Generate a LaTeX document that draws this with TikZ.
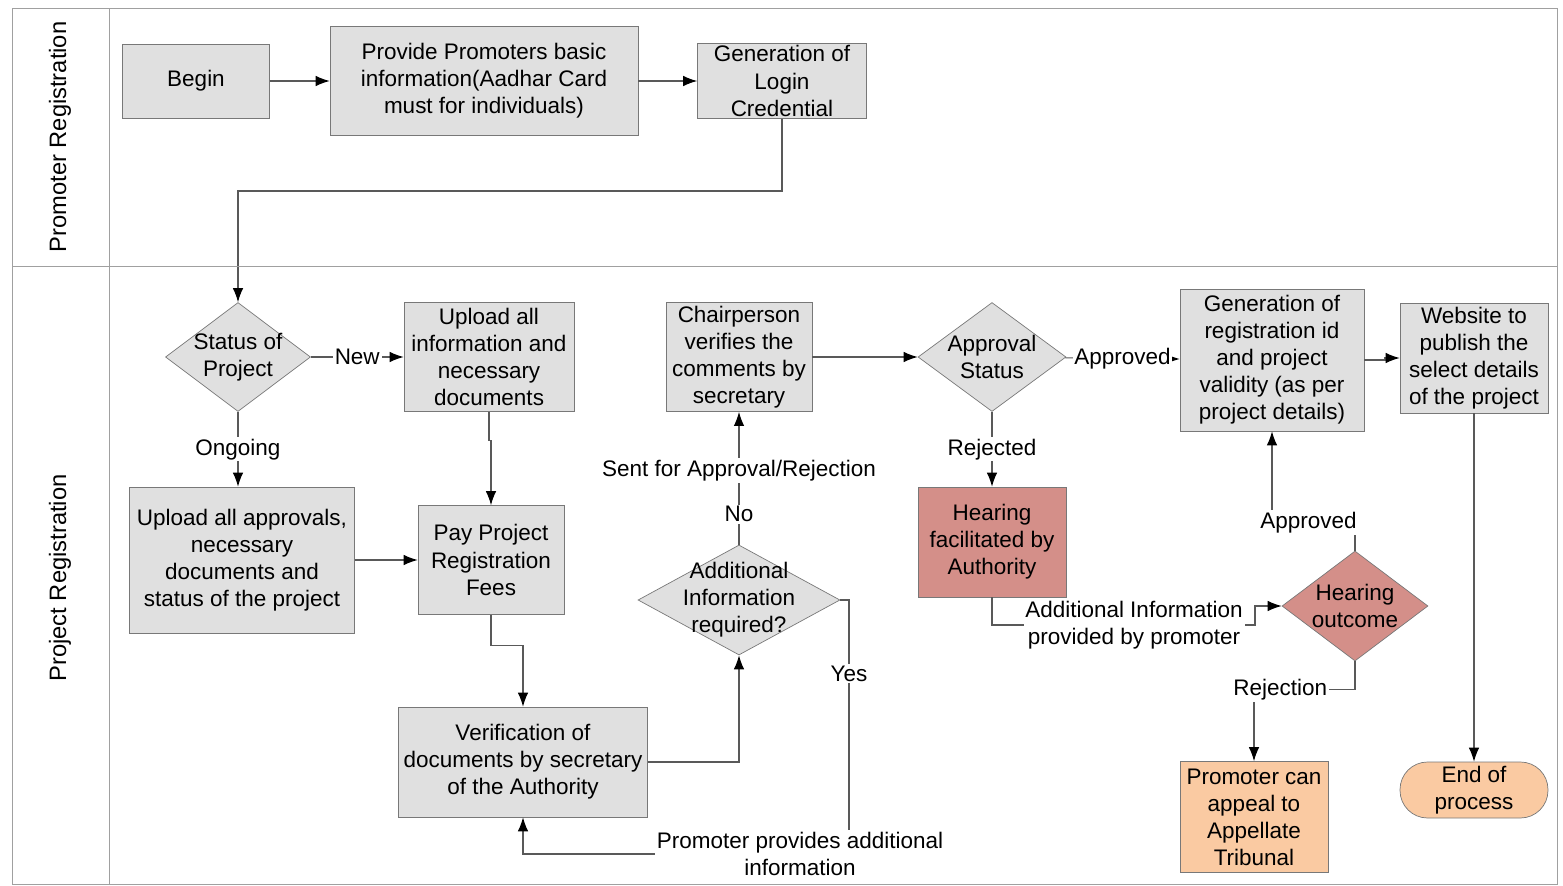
\documentclass[tikz,border=0pt]{standalone}
\usepackage{fontspec}
\setmainfont{Liberation Sans}
\usetikzlibrary{arrows.meta,positioning,shapes.geometric}

\definecolor{boxgray}{RGB}{224,224,224}
\definecolor{linegray}{RGB}{120,120,120}
\definecolor{lanegray}{RGB}{160,160,160}
\definecolor{rosy}{RGB}{212,143,137}
\definecolor{peach}{RGB}{250,202,162}

\begin{document}
\begin{tikzpicture}[x=0.02cm, y=-0.02cm, >={Latex[length=8pt,width=6pt,color=black]},
  every node/.style={font=\fontsize{12.8}{15.4}\selectfont, align=center},
  blk/.style={draw=linegray, fill=boxgray, inner sep=2pt},
  dia/.style={diamond, draw=linegray, fill=boxgray, inner sep=0pt},
  lbl/.style={fill=white, inner sep=1pt},
  flow/.style={->, draw=black!65, line width=0.6pt}]
      \useasboundingbox (0,0) rectangle (1563,886);

      % promoter lane
      \node[blk, minimum width=2.94cm, minimum height=1.48cm] (begin) at (196,81) {Begin};
      \node[blk, minimum width=6.16cm, minimum height=2.18cm] (basic) at (484,81) {Provide Promoters basic\\information(Aadhar Card\\must for individuals)};
      \node[blk, inner ysep=0pt, minimum width=3.38cm, minimum height=1.5cm] (login) at (782,81) {Generation of\\Login\\Credential};

      % project lane
      \node[dia, minimum width=2.9cm, minimum height=2.18cm, label=center:{Status of\\Project}] (status) at (238,357) {};
      \node[blk, minimum width=3.4cm, minimum height=2.18cm] (upinfo) at (489,357) {Upload all\\information and\\necessary\\documents};
      \node[blk, minimum width=4.5cm, minimum height=2.92cm] (upappr) at (242,560) {Upload all approvals,\\necessary\\documents and\\status of the project};
      \node[blk, minimum width=2.92cm, minimum height=2.18cm] (pay) at (491,560) {Pay Project\\Registration\\Fees};
      \node[blk, minimum width=4.98cm, minimum height=2.2cm] (verif) at (523,762) {Verification of\\documents by secretary\\of the Authority};
      \node[dia, minimum width=4.04cm, minimum height=2.2cm, label=center:{Additional\\Information\\required?}] (addinfo) at (739,600) {};
      \node[blk, minimum width=2.92cm, minimum height=2.18cm] (chair) at (739,357) {Chairperson\\verifies the\\comments by\\secretary};
      \node[dia, minimum width=2.96cm, minimum height=2.18cm, label=center:{Approval\\Status}] (approval) at (992,357) {};
      \node[blk, fill=rosy, minimum width=2.96cm, minimum height=2.2cm] (hearing) at (992,542) {Hearing\\facilitated by\\Authority};
      \node[blk, minimum width=3.68cm, minimum height=2.84cm] (genreg) at (1272,360) {Generation of\\registration id\\and project\\validity (as per\\project details)};
      \node[blk, minimum width=2.96cm, minimum height=2.2cm] (website) at (1474,358) {Website to\\publish the\\select details\\of the project};
      \node[dia, fill=rosy, minimum width=2.92cm, minimum height=2.2cm, label=center:{Hearing\\outcome}] (outcome) at (1355,606) {};
      \node[blk, fill=peach, minimum width=2.96cm, minimum height=2.22cm] (appeal) at (1254,817) {Promoter can\\appeal to\\Appellate\\Tribunal};
      \node[blk, fill=peach, rounded corners=0.55cm, minimum width=2.96cm, minimum height=1.12cm] (endproc) at (1474,790) {End of\\process};

      % connectors
      \draw[flow] (begin) -- (basic);
      \draw[flow] (basic) -- (login);
      \draw[flow] (login.south) -- (782,191) -| (status.north);
      \draw[flow] (status) -- node[lbl]{New} (upinfo);
      \draw[flow] (status.south) -- node[lbl]{Ongoing} (status.south |- upappr.north);
      \draw[flow] (upappr) -- (pay);
      \draw[flow] (upinfo.south) -- ++(0,29) -| (pay.north);
      \draw[flow] (pay.south) -- ++(0,31) -| (verif.north);
      \draw[flow] (verif.east) -| (addinfo.south);
      \draw[flow] (addinfo.north) -- node[lbl, pos=0.23]{No} node[lbl, pos=0.56]{Sent for Approval/Rejection} (chair.south);
      \draw[flow] (addinfo.east) -- (849,600) -- node[lbl, pos=0.29]{Yes} (849,854) -- node[lbl, pos=0.15]{Promoter provides additional\\information} (523,854) -- (verif.south);
      \draw[flow] (chair) -- (approval);
      \draw[flow] (approval) -- node[lbl]{Approved} (genreg);
      \draw[flow] (genreg.east) -- (1385,360) |- (website.west);
      \draw[flow] (website) -- (endproc);
      \draw[flow] (approval) -- node[lbl]{Rejected} (hearing);
      \draw[flow] (hearing.south) |- node[lbl, pos=0.77]{Additional Information\\provided by promoter} (1255,625) |- (outcome.west);
      \draw[flow] (outcome.north) -- ++(0,-28) -| node[lbl, pos=0.28]{Approved} (genreg.south);
      \draw[flow] (outcome.south) -- ++(0,28) -| node[lbl, pos=0.37]{Rejection} (appeal.north);

      % swimlanes
      \draw[lanegray] (12,8) rectangle (1557,884);
      \draw[lanegray] (12,266) -- (1557,266);
      \draw[lanegray] (109,8) -- (109,884);
      \node[rotate=90, font=\fontsize{13.5}{16}\selectfont] (lanepromo) at (60,137) {Promoter Registration};
      \node[rotate=90, font=\fontsize{13.5}{16}\selectfont] (laneproj) at (60,578) {Project Registration};
\end{tikzpicture}
\end{document}
